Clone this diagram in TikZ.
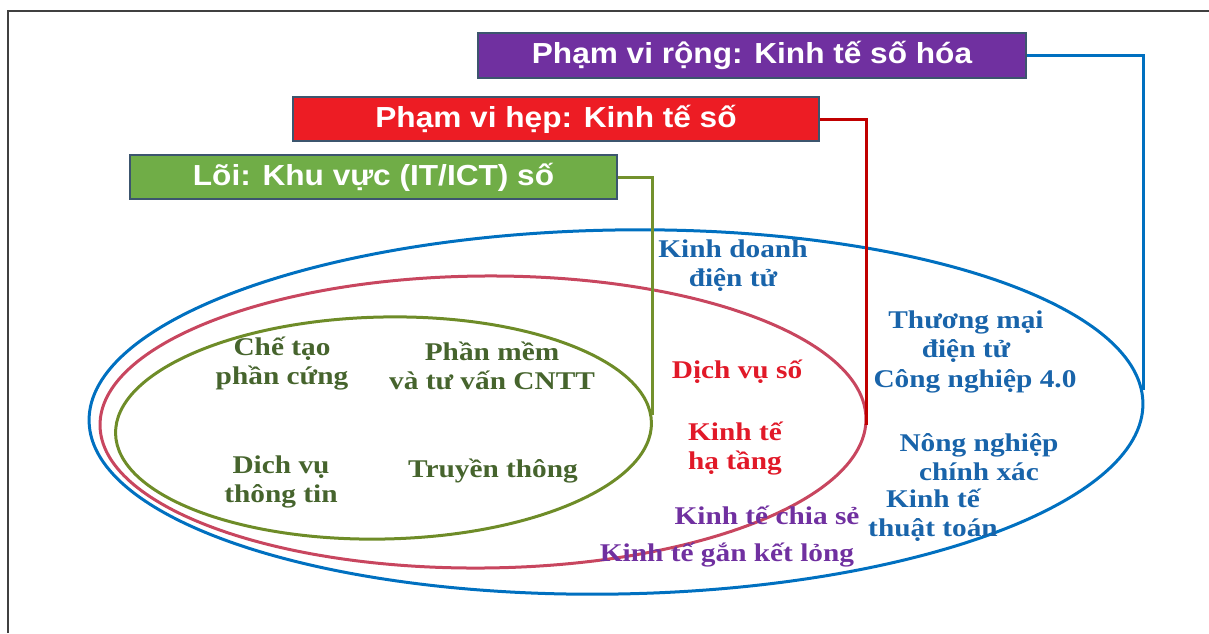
\documentclass[tikz,border=0pt]{standalone}
\usepackage{fontspec}
\setmainfont[FakeStretch=1.15]{Liberation Serif}
\newfontfamily\boxfont[FakeStretch=1.09]{Liberation Sans}
\definecolor{cpurple}{RGB}{112,48,160}
\definecolor{cred}{RGB}{237,28,36}
\definecolor{cgreen}{RGB}{112,173,71}
\definecolor{cborder}{RGB}{60,85,110}
\definecolor{lblue}{RGB}{0,112,192}
\definecolor{lred}{RGB}{192,0,0}
\definecolor{lgreen}{RGB}{115,145,45}
\definecolor{ered}{RGB}{200,70,95}
\definecolor{egreen}{RGB}{110,140,40}
\definecolor{tgreen}{RGB}{70,100,45}
\definecolor{tred}{RGB}{225,25,40}
\definecolor{tpurple}{RGB}{112,48,160}
\definecolor{tblue}{RGB}{25,100,170}
\begin{document}
\begin{tikzpicture}[x=1pt,y=-1pt,
  titlebox/.style={draw=cborder, line width=1.5pt, text=white, inner sep=0pt,
    font=\boxfont\bfseries\fontsize{29}{29}\selectfont},
  lbl/.style={inner sep=0pt, align=center, font=\bfseries\fontsize{25.5}{29}\selectfont},
  conn/.style={line width=3pt, line join=miter},
  ring/.style={line width=3pt}]
\useasboundingbox (0,0) rectangle (1209,633);
\draw[line width=1.5pt, black!75] (8,633) -- (8,11) -- (1209,11);

% ellipses
\draw[ring, lblue] (616,412) ellipse [x radius=527pt, y radius=182pt, rotate=1];
\draw[ring, ered] (483,422) ellipse [x radius=383pt, y radius=146pt, rotate=0.5];
\draw[ring, egreen] (383.5,428) ellipse [x radius=268pt, y radius=111pt, rotate=1.2];

\coordinate (bR) at (1143,390);
\coordinate (rR) at (866,425);
\coordinate (gR) at (652,415);

% title boxes
\node[titlebox, fill=cpurple, minimum width=548pt, minimum height=45pt] (pbox) at (752,55.5) {Phạm vi rộng: Kinh tế số hóa};
\node[titlebox, fill=cred, minimum width=526pt, minimum height=44pt] (rbox) at (556,119) {Phạm vi hẹp: Kinh tế số};
\node[titlebox, fill=cgreen, minimum width=487pt, minimum height=44pt] (gbox) at (373.5,177) {Lõi: Khu vực (IT/ICT) số};

% connectors
\draw[conn, lblue] (pbox.east) -| (bR);
\draw[conn, lred] (rbox.east) -| (rR);
\draw[conn, lgreen] (gbox.east) -| (gR);

% core labels
\node[lbl, text=tgreen] (l1) at (282,364) {Chế tạo\\phần cứng};
\node[lbl, text=tgreen] (l2) at (492,366) {Phần mềm\\và tư vấn CNTT};
\node[lbl, text=tgreen] (l3) at (281,482) {Dich vụ\\thông tin};
\node[lbl, text=tgreen] (l4) at (493,471) {Truyền thông};

% narrow labels
\node[lbl, text=tred] (l5) at (737,372) {Dịch vụ số};
\node[lbl, text=tred] (l6) at (735,449) {Kinh tế\\hạ tầng};
\node[lbl, text=tpurple] (l7) at (767,515) {Kinh tế chia sẻ};
\node[lbl, text=tpurple] (l8) at (727,555) {Kinh tế gắn kết lỏng};

% broad labels
\node[lbl, text=tblue] (l9) at (733,266) {Kinh doanh\\điện tử};
\node[lbl, text=tblue] (l10) at (966,337) {Thương mại\\điện tử};
\node[lbl, text=tblue] (l11) at (975,381) {Công nghiệp 4.0};
\node[lbl, text=tblue] (l12) at (979,457) {Nông nghiệp\\chính xác};
\node[lbl, text=tblue] (l13) at (933,515) {Kinh tế\\thuật toán};
\end{tikzpicture}
\end{document}
